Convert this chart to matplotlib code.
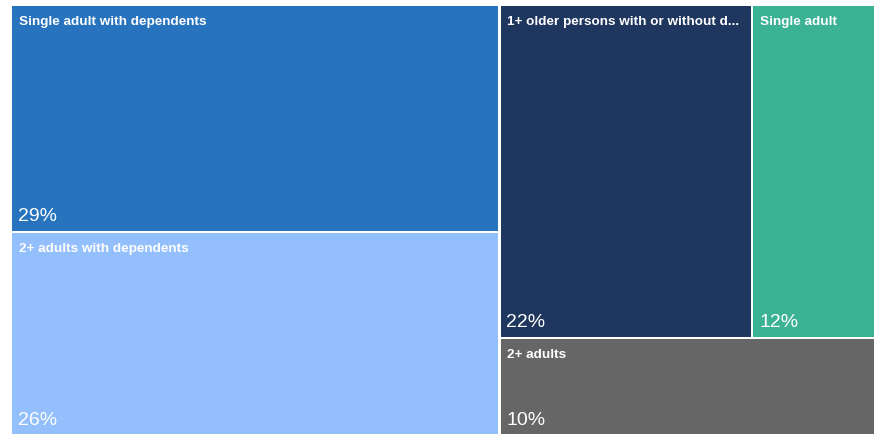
import matplotlib
matplotlib.use("Agg")
import matplotlib.pyplot as plt
from matplotlib.patches import Rectangle

categories = ["Single adult with dependents", "2+ adults with dependents",
              "1+ older persons with or without d...", "Single adult", "2+ adults"]
values = [29, 26, 22, 12, 10]
colors = ["#2873BE", "#94BFFD", "#1F365F", "#3BB294", "#666666"]

plt.rcParams['font.family'] = ['Liberation Sans', 'DejaVu Sans']

FW, FH = 874, 434
fig = plt.figure(figsize=(FW / 100, FH / 100), dpi=100)
# plot area in pixels (extends slightly beyond the figure on the right/bottom)
px0, py0, px1, py1 = 11, 5, 890, 436
ax = fig.add_axes([px0 / FW, 1 - py1 / FH, (px1 - px0) / FW, (py1 - py0) / FH])
W, H = px1 - px0, py1 - py0
ax.set_xlim(0, W)
ax.set_ylim(H, 0)
ax.axis("off")

total = sum(values)
left_total = values[0] + values[1]
right_total = total - left_total
top_right = values[2] + values[3]

lw = W * left_total / total
rects = []
h0 = H * values[0] / left_total
rects.append((0, 0, lw, h0))
rects.append((0, h0, lw, H - h0))
rw = W - lw
th = H * top_right / right_total
w2 = rw * values[2] / top_right
rects.append((lw, 0, w2, th))
rects.append((lw + w2, 0, rw - w2, th))
rects.append((lw, th, rw, H - th))

gap = 1.2
for (x, y, w, h), cat, v, c in zip(rects, categories, values, colors):
    ax.add_patch(Rectangle((x + gap, y + gap), w - 2 * gap, h - 2 * gap,
                           facecolor=c, edgecolor="none"))
    ax.text(x + 8, y + 11, cat, color="white", fontsize=9.7, fontweight="bold",
            ha="left", va="top")
    ax.text(x + 7, y + h - 7, f"{v}%", color="white", fontsize=14,
            ha="left", va="bottom")

fig.savefig("out.png", dpi=100, facecolor="white")
